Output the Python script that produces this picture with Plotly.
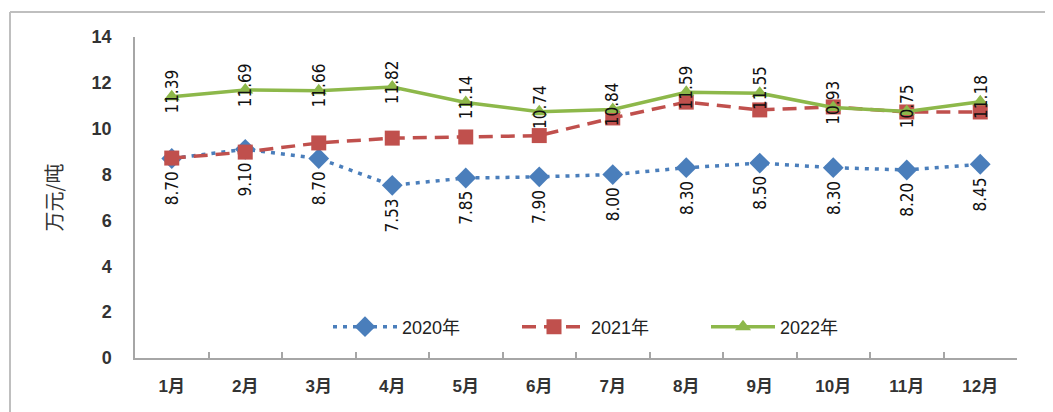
import plotly.graph_objects as go

months = ["1月", "2月", "3月", "4月", "5月", "6月", "7月", "8月", "9月", "10月", "11月", "12月"]
v2020 = [8.70, 9.10, 8.70, 7.53, 7.85, 7.90, 8.00, 8.30, 8.50, 8.30, 8.20, 8.45]
v2021 = [8.72, 8.98, 9.38, 9.59, 9.64, 9.70, 10.47, 11.16, 10.82, 10.95, 10.73, 10.73]
v2022 = [11.39, 11.69, 11.66, 11.82, 11.14, 10.74, 10.84, 11.59, 11.55, 10.93, 10.75, 11.18]
series_names = ["2020年", "2021年", "2022年"]

W, H = 1053, 412
OFF = 8  # page body margin
L, R, T, B = 135 - OFF, 44, 37 - OFF, 62
pw, ph = W - L - R, H - T - B

fig = go.Figure()
fig.add_trace(go.Scatter(
    x=months, y=v2020, name=series_names[0], mode="lines+markers",
    line=dict(color="#4A7EBB", width=3.5, dash="4px,6px"),
    marker=dict(symbol="diamond", size=16, color="#4A7EBB"),
))
fig.add_trace(go.Scatter(
    x=months, y=v2021, name=series_names[1], mode="lines+markers",
    line=dict(color="#C0504D", width=3.5, dash="14px,8px"),
    marker=dict(symbol="square", size=15, color="#C0504D"),
))
fig.add_trace(go.Scatter(
    x=months, y=v2022, name=series_names[2], mode="lines+markers",
    line=dict(color="#8DB84A", width=3.5),
    marker=dict(symbol="triangle-up", size=14, color="#8DB84A"),
))

label_font = dict(family="Liberation Sans Narrow, Arial Narrow, DejaVu Sans Condensed, sans-serif",
                  size=17, color="#111111")
for m, v in zip(months, v2020):
    fig.add_annotation(x=m, y=v, text=f"{v:.2f}", textangle=-90, showarrow=False,
                       yanchor="top", yshift=-11, font=label_font)
for m, v in zip(months, v2022):
    fig.add_annotation(x=m, y=v, text=f"{v:.2f}", textangle=-90, showarrow=False,
                       yanchor="middle", yshift=5, font=label_font)

# outer frame (top and left edges visible)
x_left = (10 - OFF - L) / pw
y_top = (H - B - (12 - OFF)) / ph
fig.add_shape(type="line", xref="paper", yref="paper", x0=x_left, x1=(W + 10 - L) / pw,
              y0=y_top, y1=y_top, line=dict(color="#BFBFBF", width=2))
fig.add_shape(type="line", xref="paper", yref="paper", x0=x_left, x1=x_left,
              y0=y_top, y1=-(B + 10) / ph, line=dict(color="#BFBFBF", width=2))

fig.update_layout(
    width=W, height=H,
    margin=dict(l=L, r=R, t=T, b=B, pad=0),
    paper_bgcolor="white", plot_bgcolor="white",
    font=dict(family="Liberation Sans, Arial, sans-serif", color="#333333"),
    showlegend=True,
    legend=dict(orientation="h", x=(328 - 135) / pw, xanchor="left",
                y=(H - B - (327 - OFF)) / ph, yanchor="middle",
                font=dict(size=18, family="Liberation Sans, Noto Sans CJK SC, sans-serif", color="#222222"),
                bgcolor="rgba(255,255,255,0)", entrywidth=110, entrywidthmode="pixels",
                itemwidth=64, tracegroupgap=0),
    xaxis=dict(
        type="category", showgrid=False, showline=True, linecolor="#A6A6A6", linewidth=1.5,
        tickson="boundaries", ticks="inside", ticklen=6, tickcolor="#A6A6A6", tickwidth=1.5,
        tickfont=dict(size=17, family="Liberation Sans, Noto Sans CJK SC, sans-serif", color="#333333", weight="bold"),
        ticklabelstandoff=12, range=[-0.5, 11.5], zeroline=False,
    ),
    yaxis=dict(
        range=[0, 14], dtick=2, showgrid=False, showline=True, linecolor="#A6A6A6", linewidth=1.5,
        ticks="", zeroline=False,
        tickfont=dict(size=18, family="Liberation Sans, sans-serif", color="#333333", weight="bold"),
        ticklabelstandoff=18,
        title=dict(text="万元/吨", font=dict(size=20, family="Noto Sans CJK SC, sans-serif", color="#333333"),
                   standoff=24),
    ),
)

fig.write_html("out.html")
